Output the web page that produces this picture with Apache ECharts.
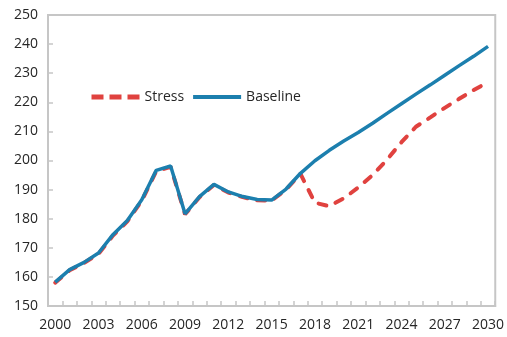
<!DOCTYPE html>
<html>
<head>
<meta charset="utf-8">
<script src="https://cdn.jsdelivr.net/npm/echarts@6/dist/echarts.min.js"></script>
<style>
  html, body { margin: 0; padding: 0; background: #fff; }
  #chart { width: 507px; height: 337px; }
</style>
</head>
<body>
<div id="chart"></div>
<script>
// Years on the horizontal axis
const years = [];
for (let y = 2000; y <= 2030; y++) years.push(String(y));

// Index levels
const baseline = [
  158.2, 162.5, 165.0, 168.2, 174.5, 179.4, 186.5, 196.6, 198.1, 181.7,
  187.6, 191.8, 189.2, 187.6, 186.6, 186.4, 190.2, 195.6, 199.9, 203.5,
  206.7, 209.6, 212.8, 216.2, 219.5, 222.8, 226.0, 229.3, 232.6, 235.8,
  239.2
];
const stress = [
  158.0, 162.3, 164.8, 167.9, 174.2, 179.1, 186.2, 196.3, 197.8, 181.5,
  187.4, 191.6, 189.0, 187.4, 186.3, 186.2, 190.0, 195.4, 185.5, 184.3,
  187.0, 190.7, 195.0, 200.3, 206.3, 211.6, 214.8, 218.1, 221.2, 224.2,
  226.9
];

const yMin = 150, yMax = 250, yStep = 10;

const axisGray = '#c6c6c6';
const textColor = '#262626';
const fontFamily = '"Open Sans", "Noto Sans", sans-serif';
const red = '#e0423f';
const blue = '#1c7fae';

const chart = echarts.init(document.getElementById('chart'));
chart.setOption({
  animation: false,
  backgroundColor: '#ffffff',
  grid: {
    left: 48, right: 9, top: 15, bottom: 31,
    show: true, borderColor: axisGray, borderWidth: 2
  },
  legend: {
    left: 84, top: 85,
    itemWidth: 48, itemHeight: 14, itemGap: 7,
    itemStyle: { opacity: 0 },
    textStyle: { fontSize: 14, color: textColor, fontFamily: fontFamily },
    data: [
      { name: 'Stress', lineStyle: { width: 5, type: [12, 6], cap: 'butt', color: red } },
      { name: 'Baseline', lineStyle: { width: 4, color: blue } }
    ]
  },
  xAxis: {
    type: 'category',
    data: years,
    boundaryGap: true,
    axisLine: { lineStyle: { color: axisGray, width: 2 } },
    axisTick: { show: true, inside: true, length: 5, interval: 0, lineStyle: { color: axisGray, width: 1.5 } },
    axisLabel: { interval: 2, fontSize: 14, color: textColor, fontFamily: fontFamily, margin: 12 },
    splitLine: { show: false }
  },
  yAxis: {
    type: 'value',
    min: yMin, max: yMax, interval: yStep,
    axisLine: { show: true, lineStyle: { color: axisGray, width: 2 } },
    axisTick: { show: true, inside: true, length: 5, lineStyle: { color: axisGray, width: 1.5 } },
    axisLabel: { fontSize: 14, color: textColor, fontFamily: fontFamily, margin: 10 },
    splitLine: { show: false }
  },
  series: [
    {
      name: 'Stress',
      type: 'line',
      data: stress,
      showSymbol: false,
      symbol: 'none',
      z: 2,
      color: red,
      lineStyle: { width: 4, type: [8, 10], color: red, cap: 'round' }
    },
    {
      name: 'Baseline',
      type: 'line',
      data: baseline,
      showSymbol: false,
      symbol: 'none',
      z: 3,
      color: blue,
      lineStyle: { width: 3.5, color: blue }
    }
  ]
});
</script>
</body>
</html>
